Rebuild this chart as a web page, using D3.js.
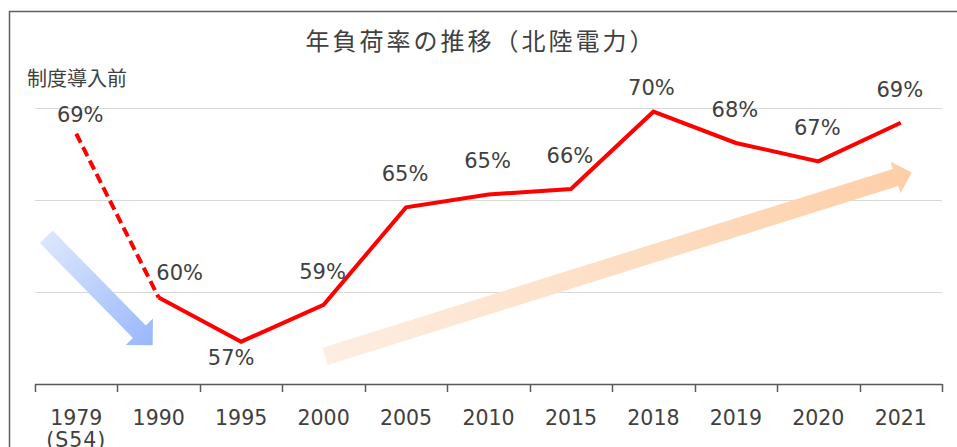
<!DOCTYPE html>
<html lang="ja">
<head>
    <meta charset="UTF-8">
    <title>年負荷率の推移（北陸電力）</title>
    <script src="https://d3js.org/d3.v7.min.js"></script>
    <style>
        body { margin: 0; background: #fff; }
        svg { display: block; }
        .title { font-family: "Noto Sans CJK JP", sans-serif; font-size: 24px; fill: #404040; letter-spacing: 3px; }
        .note { font-family: "Noto Sans CJK JP", sans-serif; font-size: 20px; fill: #404040; }
        .val { font-family: "DejaVu Sans", Verdana, sans-serif; font-size: 21px; fill: #404040; text-anchor: middle; }
        .tick text { font-family: "DejaVu Sans", Verdana, sans-serif; font-size: 20.5px; fill: #404040; }
    </style>
</head>
<body>
<svg width="957" height="447"></svg>
<script>
// data
const years = ["1979", "1990", "1995", "2000", "2005", "2010", "2015", "2018", "2019", "2020", "2021"];
const yearSub = {"1979": "(S54)"};
const loadFactor = [68.6, 59.7, 57.3, 59.3, 64.6, 65.3, 65.6, 69.8, 68.1, 67.1, 69.2];
const gridTicks = [60, 65, 70];

const svg = d3.select("svg");
const W = 957, H = 447;
const plotL = 35, plotR = 942, plotT = 108, plotB = 384;

const x = d3.scaleBand().domain(years).range([plotL, plotR]).padding(0);
const cx = d => x(d) + x.bandwidth() / 2;
const y = d3.scaleLinear().domain([55, 70]).range([plotB, plotT]);

const data = years.map((yr, i) => ({ yr, v: loadFactor[i] }));

// frame (left + top edges)
svg.append("path")
    .attr("d", `M9.5,${H} V11.5 H${W}`)
    .attr("fill", "none")
    .attr("stroke", "#5f5f5f")
    .attr("stroke-width", 1.5);

// gridlines
svg.append("g").selectAll("line")
    .data(gridTicks)
    .join("line")
    .attr("x1", plotL).attr("x2", plotR)
    .attr("y1", d => Math.round(y(d)) + 0.5).attr("y2", d => Math.round(y(d)) + 0.5)
    .attr("stroke", "#d9d9d9")
    .attr("stroke-width", 1);

// gradients for the arrows
const defs = svg.append("defs");
function grad(id, c0, c1) {
    const g = defs.append("linearGradient").attr("id", id)
        .attr("x1", "0%").attr("x2", "100%").attr("y1", "0%").attr("y2", "0%");
    g.append("stop").attr("offset", "0%").attr("stop-color", c0);
    g.append("stop").attr("offset", "100%").attr("stop-color", c1);
}
grad("gBlue", "#dce7fd", "#98b7fb");
grad("gOrange", "#fdeee2", "#fdcfa7");

function arrow(p0, p1, shaft, headW, headL, fill) {
    const dx = p1[0] - p0[0], dy = p1[1] - p0[1];
    const len = Math.hypot(dx, dy);
    const ang = Math.atan2(dy, dx) * 180 / Math.PI;
    const s = shaft / 2, h = headW / 2, b = len - headL;
    svg.append("path")
        .attr("d", `M0,${-s} L${b},${-s} L${b},${-h} L${len},0 L${b},${h} L${b},${s} L0,${s} Z`)
        .attr("transform", `translate(${p0[0]},${p0[1]}) rotate(${ang})`)
        .attr("fill", fill);
}
// decorative trend arrows, anchored on the chart scales
arrow([cx("1979") - 30, y(63)], [cx("1990") - 6, y(57.1)], 18, 38, 19, "url(#gBlue)");
arrow([cx("2000") + 1.5, y(56.5)], [cx("2021") + 11, y(66.5)], 18, 33, 17, "url(#gOrange)");

// x axis: labels at band centres, ticks at band edges
const axis = svg.append("g")
    .attr("transform", `translate(0,${plotB})`)
    .call(d3.axisBottom(x).tickSize(0).tickPadding(0));
axis.select(".domain").remove();
axis.selectAll(".tick text")
    .attr("y", 41).attr("dy", null)
    .each(function (d) {
        if (yearSub[d]) {
            d3.select(this.parentNode).append("text")
                .attr("y", 63).attr("text-anchor", "middle")
                .style("letter-spacing", "1px")
                .text(yearSub[d]);
        }
    });
svg.append("line")
    .attr("x1", plotL).attr("x2", plotR)
    .attr("y1", plotB + 0.5).attr("y2", plotB + 0.5)
    .attr("stroke", "#595959").attr("stroke-width", 1.5);
svg.append("g").selectAll("line")
    .data(years.map(d => x(d)).concat([plotR]))
    .join("line")
    .attr("x1", d => Math.round(d) + 0.5).attr("x2", d => Math.round(d) + 0.5)
    .attr("y1", plotB).attr("y2", plotB + 8)
    .attr("stroke", "#595959").attr("stroke-width", 1.5);

// line
const line = d3.line().x(d => cx(d.yr)).y(d => y(d.v));
svg.append("path")
    .datum(data.slice(0, 2))
    .attr("d", line)
    .attr("fill", "none")
    .attr("stroke", "#ff0000")
    .attr("stroke-width", 4)
    .attr("stroke-dasharray", "10,5");
svg.append("path")
    .datum(data.slice(1))
    .attr("d", line)
    .attr("fill", "none")
    .attr("stroke", "#ff0000")
    .attr("stroke-width", 4)
    .attr("stroke-linejoin", "miter");

// value labels
const labelShift = { "1979": [4, -12], "1990": [21, -18], "1995": [-10, 23], "2018": [-2, -17] };
svg.append("g").selectAll("text")
    .data(data)
    .join("text")
    .attr("class", "val")
    .attr("x", d => cx(d.yr) + (labelShift[d.yr] ? labelShift[d.yr][0] : -1))
    .attr("y", d => y(d.v) + (labelShift[d.yr] ? labelShift[d.yr][1] : -26))
    .text(d => Math.round(d.v) + "%");

// titles
svg.append("text")
    .attr("class", "title")
    .attr("x", 481).attr("y", 50)
    .attr("text-anchor", "middle")
    .text("年負荷率の推移（北陸電力）");
svg.append("text")
    .attr("class", "note")
    .attr("x", 27).attr("y", 86)
    .text("制度導入前");
</script>
</body>
</html>
